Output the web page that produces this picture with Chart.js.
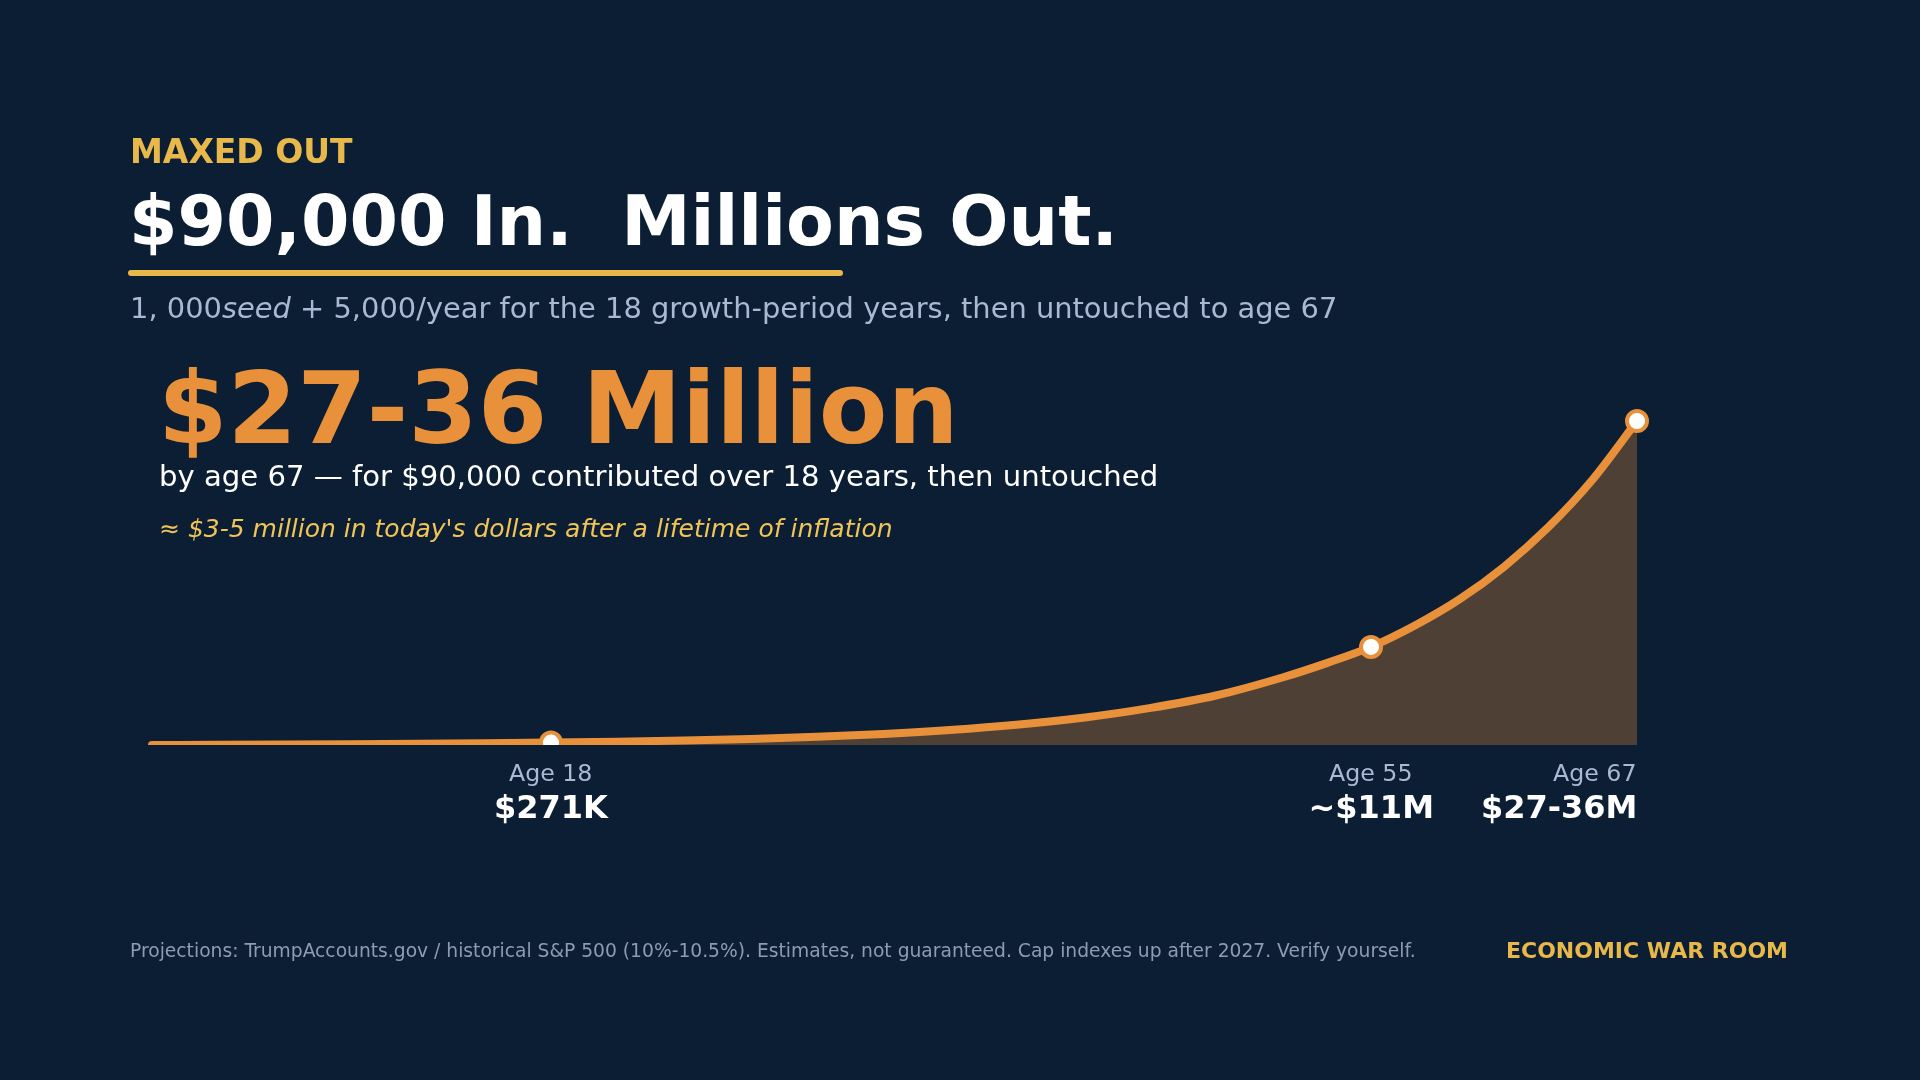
<!DOCTYPE html>
<html>
<head>
<meta charset="utf-8">
<script src="https://cdn.jsdelivr.net/npm/chart.js@4.4.1/dist/chart.umd.min.js"></script>
<style>
  body { margin: 0; width: 1920px; height: 1080px; background: #0c1e33; overflow: hidden; position: relative; font-family: "DejaVu Sans", sans-serif; }
  .t { position: absolute; white-space: pre; line-height: 1; z-index: 2; }
  #chart { position: absolute; left: 0; top: 0; z-index: 1; }
  .kicker { left: 130px; top: 135px; font-size: 33px; font-weight: bold; color: #e8b84a; }
  .title { left: 129px; top: 186px; font-size: 69.7px; font-weight: bold; color: #ffffff; }
  .bar { position: absolute; left: 128px; top: 270px; width: 715px; height: 6px; border-radius: 3px; background: #e8b84a; }
  .sub { left: 130px; top: 294px; font-size: 28.9px; color: #a9b9d3; }
  .big { left: 158px; top: 359px; font-size: 100px; font-weight: bold; color: #e8913a; }
  .by { left: 159px; top: 462px; font-size: 29.1px; color: #ffffff; }
  .infl { left: 159px; top: 516px; font-size: 25px; font-style: italic; color: #f0c457; }
  .foot { left: 130px; top: 942px; font-size: 18.7px; color: #8e9cb2; }
  .brand { right: 132px; top: 940px; font-size: 22px; font-weight: bold; color: #e8b84a; }
  .age { font-size: 23.7px; color: #a9b9d3; }
  .val { font-size: 32px; font-weight: bold; color: #ffffff; }
</style>
</head>
<body>
<div class="t kicker">MAXED OUT</div>
<div class="t title">$90,000 In.  Millions Out.</div>
<div class="bar"></div>
<div class="t sub">1, 000<i>seed</i> + 5,000/year for the 18 growth-period years, then untouched to age 67</div>
<div class="t big">$27-36 Million</div>
<div class="t by">by age 67 — for $90,000 contributed over 18 years, then untouched</div>
<div class="t infl">≈ $3-5 million in today's dollars after a lifetime of inflation</div>
<div class="t foot">Projections: TrumpAccounts.gov / historical S&amp;P 500 (10%-10.5%). Estimates, not guaranteed. Cap indexes up after 2027. Verify yourself.</div>
<div class="t brand">ECONOMIC WAR ROOM</div>
<canvas id="chart" width="1920" height="1080"></canvas>

<script>
// account value by age, in $ millions
const ages   = [0, 3, 6, 9, 12, 15, 18, 21, 24, 27, 30, 33, 36, 39, 42, 45, 48, 51, 53, 55, 57, 59, 61, 63, 65, 67];
const values = [0.001, 0.02, 0.05, 0.085, 0.13, 0.19, 0.271, 0.37, 0.5, 0.67, 0.91, 1.23, 1.66, 2.24, 3.03, 4.1, 5.5, 7.5, 9.1, 10.9, 13.3, 16.2, 19.8, 24.2, 29.5, 36.0];

// highlighted milestones
const markerAges        = [18, 55, 67];
const markerAgeLabels   = ['Age 18', 'Age 55', 'Age 67'];
const markerValueLabels = ['$271K', '~$11M', '$27-36M'];
const markerAlign       = ['center', 'center', 'right'];

const orange = '#e8913a';

// puts the milestone labels under the curve, at the x scale position of each age
const milestoneLabels = {
  id: 'milestoneLabels',
  afterDraw(chart) {
    if (chart._labelsDone) return;
    chart._labelsDone = true;
    const xScale = chart.scales.x;
    markerAges.forEach((age, i) => {
      const px = xScale.getPixelForValue(age);
      [[markerAgeLabels[i], 'age', 762], [markerValueLabels[i], 'val', 791]].forEach(([txt, cls, top]) => {
        const el = document.createElement('div');
        el.className = 't ' + cls;
        el.textContent = txt;
        el.style.top = top + 'px';
        document.body.appendChild(el);
        const w = el.offsetWidth;
        el.style.left = (markerAlign[i] === 'right' ? px - w : px - w / 2) + 'px';
      });
    });
  }
};

const ctx = document.getElementById('chart').getContext('2d');
new Chart(ctx, {
  type: 'line',
  data: {
    datasets: [{
      data: ages.map((a, i) => ({ x: a, y: values[i] })),
      borderColor: orange,
      borderWidth: 8,
      borderCapStyle: 'round',
      backgroundColor: 'rgba(232, 145, 58, 0.3)',
      fill: 'origin',
      cubicInterpolationMode: 'monotone',
      clip: { left: 6, top: 20, right: 20, bottom: 0 },
      pointRadius: c => markerAges.includes(ages[c.dataIndex]) ? 10 : 0,
      pointBackgroundColor: '#ffffff',
      pointBorderColor: orange,
      pointBorderWidth: 4
    }]
  },
  options: {
    responsive: false,
    animation: false,
    events: [],
    layout: { padding: { left: 152, right: 283, top: 421, bottom: 335 } },
    scales: {
      x: { type: 'linear', min: 0, max: 67, display: false },
      y: { min: 0, max: 36, display: false }
    },
    plugins: { legend: { display: false }, tooltip: { enabled: false } }
  },
  plugins: [milestoneLabels]
});
</script>
</body>
</html>
